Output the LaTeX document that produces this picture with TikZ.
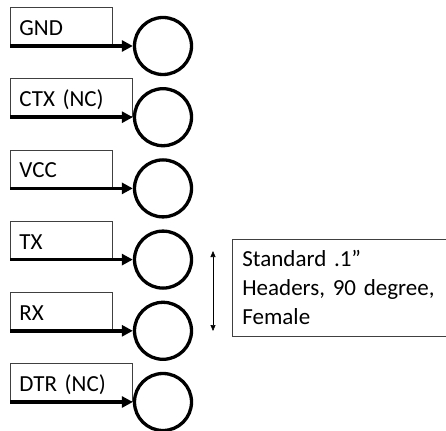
\documentclass[tikz,border=0pt]{standalone}
\usepackage{fontspec}
\setmainfont{Carlito}
\usetikzlibrary{arrows.meta,positioning}
\definecolor{boxgray}{RGB}{64,64,64}

\begin{document}
\begin{tikzpicture}[
    x=1pt, y=-1pt,
    font=\fontsize{23}{29}\selectfont,
    pinbox/.style={draw=boxgray, line width=0.8pt, anchor=south east, align=left,
                   inner xsep=9pt, minimum height=38pt, text height=18pt, text depth=0pt,
                   text width=#1},
    pin/.style={draw, circle, line width=3.3pt, minimum size=57pt, inner sep=0pt},
    pinarr/.style={-{Triangle[length=11pt,width=11pt]}, line width=3.6pt},
    span/.style={{Triangle[length=6pt,width=5pt]}-{Triangle[length=6pt,width=5pt]}, line width=0.6pt},
    notebox/.style={draw=boxgray, line width=0.8pt, anchor=north west, align=left,
                    inner xsep=10pt, minimum height=97pt, text width=220pt}
  ]
  \useasboundingbox (0,0) rectangle (446,430);
  \node[pin] (c1) at (163,46) {};
  \node[pin] (c2) at (163,117.2) {};
  \node[pin] (c3) at (163,188.4) {};
  \node[pin] (c4) at (163,259.6) {};
  \node[pin] (c5) at (163,330.8) {};
  \node[pin] (c6) at (163,402) {};
  \node[pinbox=84pt] (gnd) at ([xshift=-20pt]c1.west) {GND};
  \node[pinbox=104pt] (ctx) at (c2.west) {CTX (NC)};
  \node[pinbox=84pt] (vcc) at ([xshift=-20pt]c3.west) {VCC};
  \node[pinbox=84pt] (tx) at ([xshift=-20pt]c4.west) {TX};
  \node[pinbox=84pt] (rx) at ([xshift=-20pt]c5.west) {RX};
  \node[pinbox=104pt] (dtr) at (c6.west) {DTR (NC)};
  \draw[pinarr] (gnd.south west) -- (c1.west);
  \draw[pinarr] (ctx.south west) -- (c2.west);
  \draw[pinarr] (vcc.south west) -- (c3.west);
  \draw[pinarr] (tx.south west) -- (c4.west);
  \draw[pinarr] (rx.south west) -- (c5.west);
  \draw[pinarr] (dtr.south west) -- (c6.west);
  \coordinate (spantop) at (213,251);
  \coordinate (spanbot) at (213,331);
  \draw[span] (spantop) -- (spanbot);
  \node[notebox] (note) at (232,239) {Standard .1”\\Headers, 90 degree,\\Female};
\end{tikzpicture}
\end{document}
